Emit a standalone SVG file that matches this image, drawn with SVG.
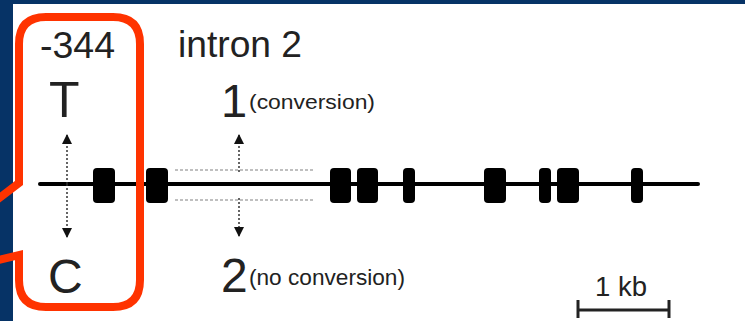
<svg xmlns="http://www.w3.org/2000/svg" width="745" height="321" viewBox="0 0 745 321">
  <style>
    .t { font-family: "Liberation Sans", Arial, sans-serif; fill: #222; }
    .exon { fill: #000; }
    .dot { stroke: #333; stroke-width: 1.5; stroke-dasharray: 2 2; fill: none; }
    .intr { stroke: #aaa; stroke-width: 1.5; stroke-dasharray: 3 2; fill: none; }
  </style>
  <defs>
    <marker id="ah" viewBox="0 0 10 12" refX="9" refY="6" markerWidth="10" markerHeight="12" markerUnits="userSpaceOnUse" orient="auto">
      <path d="M0,1 L10,6 L0,11 Z" fill="#111"/>
    </marker>
  </defs>
  <rect x="0" y="0" width="745" height="321" fill="#063366"/>
  <rect x="13" y="4" width="732" height="317" fill="#ffffff"/>

  <g id="gene">
    <line x1="40" y1="184" x2="698" y2="184" stroke="#000" stroke-width="4" stroke-linecap="round"/>
    <line class="intr" x1="175" y1="170" x2="315" y2="170"/>
    <line class="intr" x1="175" y1="200" x2="315" y2="200"/>
    <rect class="exon" x="93" y="168" width="22" height="35" rx="4"/>
    <rect class="exon" x="146" y="168" width="22" height="35" rx="4"/>
    <rect class="exon" x="330" y="168" width="21" height="35" rx="4"/>
    <rect class="exon" x="357" y="168" width="21" height="35" rx="4"/>
    <rect class="exon" x="403" y="168" width="12" height="35" rx="4"/>
    <rect class="exon" x="484" y="168" width="22" height="35" rx="4"/>
    <rect class="exon" x="539" y="168" width="12" height="35" rx="4"/>
    <rect class="exon" x="557" y="168" width="22" height="35" rx="4"/>
    <rect class="exon" x="631" y="168" width="12" height="35" rx="4"/>
  </g>

  <g id="label-344">
    <text class="t" x="40" y="58" font-size="36" textLength="75" lengthAdjust="spacingAndGlyphs">-344</text>
  </g>
  <g id="label-intron2">
    <text class="t" x="178" y="57" font-size="37" textLength="124" lengthAdjust="spacingAndGlyphs">intron 2</text>
  </g>
  <g id="label-T">
    <text class="t" x="49" y="117" font-size="50">T</text>
  </g>
  <g id="label-C">
    <text class="t" x="48" y="293" font-size="48">C</text>
  </g>
  <g id="label-1">
    <text class="t" x="221" y="117" font-size="47">1</text>
    <text class="t" x="249" y="109" font-size="20" textLength="126" lengthAdjust="spacingAndGlyphs">(conversion)</text>
  </g>
  <g id="label-2">
    <text class="t" x="221" y="292" font-size="48">2</text>
    <text class="t" x="249" y="285" font-size="22" textLength="156" lengthAdjust="spacingAndGlyphs">(no conversion)</text>
  </g>

  <g id="scale">
    <text class="t" x="595" y="296" font-size="28" textLength="52" lengthAdjust="spacingAndGlyphs">1 kb</text>
    <line x1="577" y1="310" x2="670" y2="310" stroke="#222" stroke-width="3"/>
    <line x1="578" y1="300" x2="578" y2="318" stroke="#222" stroke-width="3"/>
    <line x1="669" y1="300" x2="669" y2="318" stroke="#222" stroke-width="3"/>
  </g>

  <g id="connectors">
    <line class="dot" x1="67" y1="184" x2="67" y2="135" marker-end="url(#ah)"/>
    <line class="dot" x1="67" y1="184" x2="67" y2="237" marker-end="url(#ah)"/>
    <line class="dot" x1="239" y1="172" x2="239" y2="135" marker-end="url(#ah)"/>
    <line class="dot" x1="239" y1="198" x2="239" y2="236" marker-end="url(#ah)"/>
  </g>

  <g id="callout">
    <path d="M-10,205 L19,183 L19,44 Q19,17 46,17 L113,17 Q140,17 140,44 L140,280 Q140,307 113,307 L46,307 Q19,307 19,280 L19,255 L-10,262" fill="none" stroke="#ff3300" stroke-width="8" stroke-linejoin="miter"/>
  </g>
</svg>
